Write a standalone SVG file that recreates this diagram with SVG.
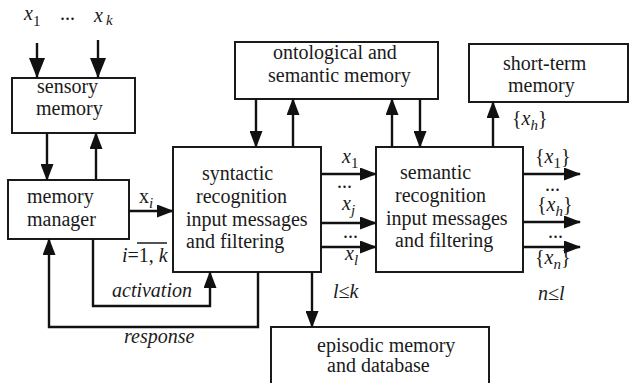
<svg xmlns="http://www.w3.org/2000/svg" width="630" height="383" viewBox="0 0 630 383" font-family="Liberation Serif">
  <style>
    .box { fill: #ffffff; stroke: #1a1a1a; stroke-width: 2; }
    .lbl { font-family: 'Liberation Serif', 'Times New Roman', serif; font-size: 20px; fill: #1a1a1a; }
    .it { font-style: italic; }
    .sub { font-size: 15px; }
    .wire { fill: none; stroke: #111111; stroke-width: 2.4; }
  </style>
  <defs>
    <marker id="arrow" markerUnits="userSpaceOnUse" markerWidth="17" markerHeight="13" refX="16" refY="6.5" orient="auto">
      <path d="M0,0 L17,6.5 L0,13 z" fill="#111111"/>
    </marker>
    <marker id="arrowBig" markerUnits="userSpaceOnUse" markerWidth="20" markerHeight="16" refX="20" refY="8" orient="auto">
      <path d="M0,0 L20,8 L0,16 z" fill="#111111"/>
    </marker>
  </defs>

  <!-- input signals -->
  <g id="inputs" class="lbl">
    <text x="24" y="20"><tspan class="it">x</tspan><tspan class="sub" dy="6">1</tspan></text>
    <text x="60" y="20">...</text>
    <text x="94" y="22"><tspan class="it">x</tspan><tspan class="sub it" dx="3" dy="3">k</tspan></text>
  </g>

  <g id="sensory">
    <rect class="box" x="12" y="78" width="123" height="55"/>
    <text class="lbl" x="37" y="93">sensory</text>
    <text class="lbl" x="36" y="115">memory</text>
  </g>

  <g id="manager">
    <rect class="box" x="8" y="180" width="121" height="59"/>
    <text class="lbl" x="27" y="203">memory</text>
    <text class="lbl" x="27" y="226">manager</text>
  </g>

  <g id="syntactic">
    <rect class="box" x="173" y="147" width="148" height="125"/>
    <text class="lbl" x="202" y="180">syntactic</text>
    <text class="lbl" x="196" y="203">recognition</text>
    <text class="lbl" x="186" y="226">input messages</text>
    <text class="lbl" x="186" y="248">and filtering</text>
  </g>

  <g id="ontological">
    <rect class="box" x="235" y="42" width="203" height="57"/>
    <text class="lbl" x="273" y="59">ontological and</text>
    <text class="lbl" x="268" y="82">semantic memory</text>
  </g>

  <g id="semantic">
    <rect class="box" x="376" y="147" width="147" height="125"/>
    <text class="lbl" x="400" y="179">semantic</text>
    <text class="lbl" x="395" y="202">recognition</text>
    <text class="lbl" x="386" y="225">input messages</text>
    <text class="lbl" x="395" y="247">and filtering</text>
  </g>

  <g id="shortterm">
    <rect class="box" x="469" y="44" width="159" height="58"/>
    <text class="lbl" x="503" y="70">short-term</text>
    <text class="lbl" x="508" y="92">memory</text>
  </g>

  <g id="episodic">
    <rect class="box" x="271" y="327" width="218" height="70"/>
    <text class="lbl" x="317" y="352">episodic memory</text>
    <text class="lbl" x="327" y="372">and database</text>
  </g>

  <!-- connectors -->
  <g id="connectors" class="wire">
    <line x1="37" y1="43" x2="37" y2="78" marker-end="url(#arrowBig)"/>
    <line x1="98" y1="40" x2="98" y2="78" marker-end="url(#arrowBig)"/>
    <line x1="47" y1="133" x2="47" y2="180" marker-end="url(#arrow)"/>
    <line x1="96" y1="180" x2="96" y2="133" marker-end="url(#arrow)"/>
    <line x1="129" y1="211" x2="173" y2="211" marker-end="url(#arrow)"/>
    <path d="M93,239 V306 H210 V272" marker-end="url(#arrow)"/>
    <path d="M258,272 V327 H49 V239" marker-end="url(#arrow)"/>
    <line x1="256" y1="99" x2="256" y2="147" marker-end="url(#arrow)"/>
    <line x1="293" y1="147" x2="293" y2="99" marker-end="url(#arrow)"/>
    <line x1="392" y1="147" x2="392" y2="99" marker-end="url(#arrow)"/>
    <line x1="420" y1="99" x2="420" y2="147" marker-end="url(#arrow)"/>
    <line x1="321" y1="174" x2="376" y2="174" marker-end="url(#arrow)"/>
    <line x1="321" y1="223" x2="376" y2="223" marker-end="url(#arrow)"/>
    <line x1="321" y1="247" x2="376" y2="247" marker-end="url(#arrow)"/>
    <line x1="523" y1="174" x2="580" y2="174" marker-end="url(#arrow)"/>
    <line x1="523" y1="222" x2="580" y2="222" marker-end="url(#arrow)"/>
    <line x1="523" y1="247" x2="580" y2="247" marker-end="url(#arrow)"/>
    <line x1="493" y1="147" x2="493" y2="102" marker-end="url(#arrow)"/>
    <line x1="312" y1="272" x2="312" y2="327" marker-end="url(#arrow)"/>
  </g>

  <!-- connector labels -->
  <g id="labels" class="lbl">
    <text x="139" y="203">x<tspan class="sub it" dy="5">i</tspan></text>
    <text x="122" y="262"><tspan class="it">i</tspan>=1, <tspan class="it">k</tspan></text>
    <line x1="137" y1="243" x2="167" y2="243" stroke="#1a1a1a" stroke-width="1.5"/>
    <text class="it" x="112" y="297">activation</text>
    <text class="it" x="124" y="343">response</text>

    <text x="342" y="163"><tspan class="it">x</tspan><tspan class="sub" dy="5">1</tspan></text>
    <text x="337" y="188">...</text>
    <text x="342" y="210"><tspan class="it">x</tspan><tspan class="sub it" dy="5">j</tspan></text>
    <text x="343" y="238">...</text>
    <text x="345" y="260"><tspan class="it">x</tspan><tspan class="sub it" dy="5">l</tspan></text>
    <text class="it" x="333" y="298">l≤k</text>

    <text x="535" y="163">{<tspan class="it">x</tspan><tspan class="sub" dy="5">1</tspan><tspan dy="-5">}</tspan></text>
    <text x="545" y="191">...</text>
    <text x="537" y="211">{<tspan class="it">x</tspan><tspan class="sub it" dy="5">h</tspan><tspan dy="-5">}</tspan></text>
    <text x="548" y="238">...</text>
    <text x="535" y="264">{<tspan class="it">x</tspan><tspan class="sub it" dy="5">n</tspan><tspan dy="-5">}</tspan></text>
    <text class="it" x="538" y="300">n≤l</text>

    <text x="512" y="125">{<tspan class="it">x</tspan><tspan class="sub it" dy="5">h</tspan><tspan dy="-5">}</tspan></text>
  </g>
</svg>
